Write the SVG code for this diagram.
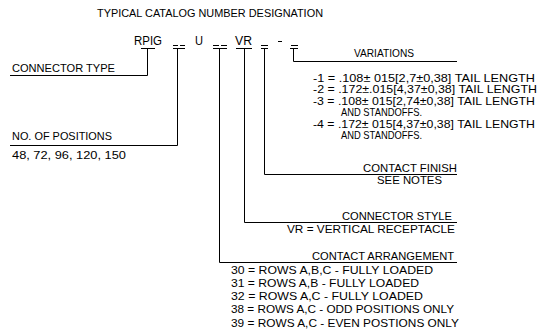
<svg xmlns="http://www.w3.org/2000/svg" width="541" height="335" viewBox="0 0 541 335">
<style>
text{font-family:"Liberation Sans",Arial,sans-serif;font-size:11px;fill:#000}
.big{font-size:12.5px}
.ln{stroke:#000;stroke-width:1;fill:none}
</style>
<rect width="541" height="335" fill="#fff"/>
<g id="title"><text x="97" y="17" textLength="226" lengthAdjust="spacingAndGlyphs">TYPICAL CATALOG NUMBER DESIGNATION</text></g>
<g id="catalog-number">
<text class="big" x="134" y="45" textLength="28" lengthAdjust="spacingAndGlyphs">RPIG</text>
<text class="big" x="195" y="45" textLength="8" lengthAdjust="spacingAndGlyphs">U</text>
<text class="big" x="235" y="45" textLength="17" lengthAdjust="spacingAndGlyphs">VR</text>
<path class="ln" d="M173,45.5h5M180,45.5h5M213,45.5h6M221,45.5h6M261,45.5h7M278,41.5h4M291,45.5h7"/>
</g>
<g id="connectors">
<path class="ln" d="M141,48.5h14M147.5,48.5V75.5H10"/>
<path class="ln" d="M173,48.5h12M177.5,48.5V145.5H10"/>
<path class="ln" d="M213,48.5h14M219.5,48.5V262.5H457"/>
<path class="ln" d="M236,48.5h16M244.5,48.5V222.5H457"/>
<path class="ln" d="M261,48.5h7M264.5,48.5V174.5H457"/>
<path class="ln" d="M290,48.5h8M293.5,48.5V61.5H457"/>
</g>
<g id="connector-type"><text x="12" y="72" textLength="103" lengthAdjust="spacingAndGlyphs">CONNECTOR TYPE</text></g>
<g id="positions">
<text x="12" y="140" textLength="100" lengthAdjust="spacingAndGlyphs">NO. OF POSITIONS</text>
<text x="12" y="159" textLength="114" lengthAdjust="spacingAndGlyphs">48, 72, 96, 120, 150</text>
</g>
<g id="variations">
<text x="354" y="57" textLength="60" lengthAdjust="spacingAndGlyphs">VARIATIONS</text>
<text x="313" y="82" textLength="222" lengthAdjust="spacingAndGlyphs">-1 = .108± 015[2,7±0,38]  TAIL LENGTH</text>
<text x="313" y="93.4" textLength="224" lengthAdjust="spacingAndGlyphs">-2 = .172±.015[4,37±0,38]  TAIL LENGTH</text>
<text x="313" y="104.8" textLength="222" lengthAdjust="spacingAndGlyphs">-3 = .108± 015[2,74±0,38]  TAIL LENGTH</text>
<text x="341" y="116.2" textLength="81" lengthAdjust="spacingAndGlyphs">AND STANDOFFS.</text>
<text x="313" y="127.6" textLength="222" lengthAdjust="spacingAndGlyphs">-4 = .172± 015[4,37±0,38]  TAIL LENGTH</text>
<text x="341" y="139" textLength="81" lengthAdjust="spacingAndGlyphs">AND STANDOFFS.</text>
</g>
<g id="contact-finish">
<text x="363" y="172" textLength="94" lengthAdjust="spacingAndGlyphs">CONTACT FINISH</text>
<text x="377" y="184" textLength="65" lengthAdjust="spacingAndGlyphs">SEE NOTES</text>
</g>
<g id="connector-style">
<text x="342" y="220" textLength="110" lengthAdjust="spacingAndGlyphs">CONNECTOR STYLE</text>
<text x="287" y="233" textLength="168" lengthAdjust="spacingAndGlyphs">VR = VERTICAL RECEPTACLE</text>
</g>
<g id="contact-arrangement">
<text x="312" y="260" textLength="142" lengthAdjust="spacingAndGlyphs">CONTACT ARRANGEMENT</text>
<text x="231" y="274" textLength="202" lengthAdjust="spacingAndGlyphs">30 = ROWS A,B,C - FULLY LOADED</text>
<text x="231" y="287" textLength="188" lengthAdjust="spacingAndGlyphs">31 = ROWS A,B - FULLY LOADED</text>
<text x="231" y="300" textLength="192" lengthAdjust="spacingAndGlyphs">32 = ROWS A,C - FULLY LOADED</text>
<text x="231" y="313" textLength="223" lengthAdjust="spacingAndGlyphs">38 = ROWS A,C - ODD POSITIONS ONLY</text>
<text x="231" y="327" textLength="228" lengthAdjust="spacingAndGlyphs">39 = ROWS A,C - EVEN POSTIONS ONLY</text>
</g>
</svg>
